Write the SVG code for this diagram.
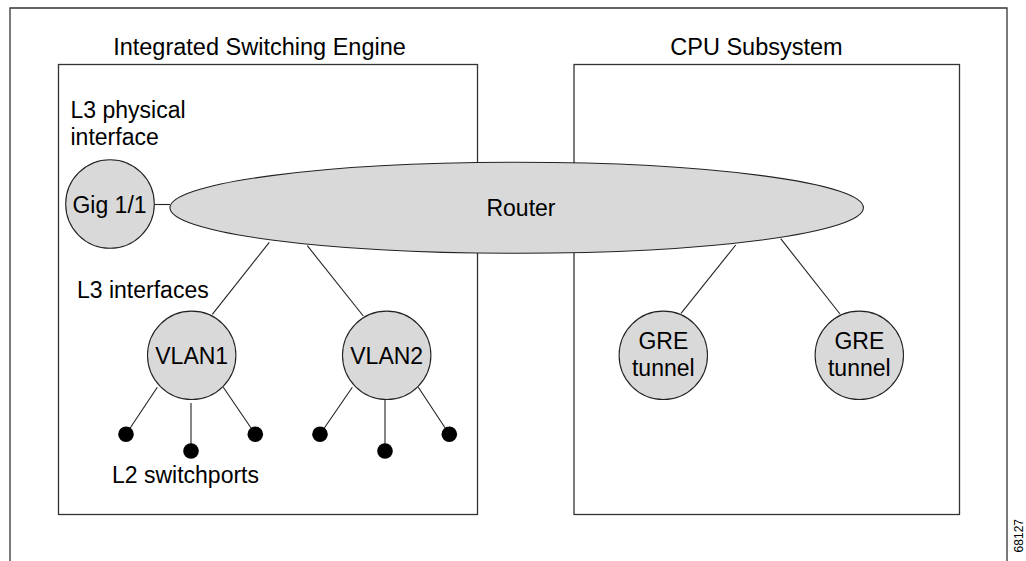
<svg xmlns="http://www.w3.org/2000/svg" width="1026" height="561" viewBox="0 0 1026 561">
<style>
text{font-family:"Liberation Sans",Arial,sans-serif;fill:#000}
.t{font-size:23.5px}
.n{font-size:23px}
.box{fill:none;stroke:#333;stroke-width:1.3}
.node{fill:#d9d9d9;stroke:#222;stroke-width:1.1}
.c{stroke:#222;stroke-width:1.1;fill:none}
.dot{fill:#000}
</style>
<rect width="1026" height="561" fill="#fff"/>
<path class="box" d="M10,561 V8 H1007 V561"/>
<g id="ise">
<rect class="box" x="58.5" y="64.5" width="419" height="450"/>
<text class="t" x="259.5" y="55" text-anchor="middle">Integrated Switching Engine</text>
</g>
<g id="cpu">
<rect class="box" x="574" y="64.5" width="385.5" height="450"/>
<text class="t" x="756.5" y="55" text-anchor="middle">CPU Subsystem</text>
</g>
<g id="labels">
<text class="n" x="70.5" y="118">L3 physical</text>
<text class="n" x="70.5" y="145">interface</text>
<text class="n" x="77" y="298">L3 interfaces</text>
<text class="n" x="112" y="483">L2 switchports</text>
</g>
<g id="connectors">
<line class="c" x1="154" y1="204.5" x2="170" y2="204.5"/>
<line class="c" x1="269.3" y1="242.3" x2="212.3" y2="314.3"/>
<line class="c" x1="307.3" y1="245.7" x2="363.3" y2="316"/>
<line class="c" x1="735.7" y1="245" x2="681" y2="313.3"/>
<line class="c" x1="780.7" y1="238.7" x2="840" y2="314"/>
<line class="c" x1="157.3" y1="387.3" x2="126" y2="434.3"/>
<line class="c" x1="191" y1="403" x2="191" y2="451"/>
<line class="c" x1="223.3" y1="387.3" x2="255.3" y2="434.3"/>
<line class="c" x1="352.3" y1="387.3" x2="320" y2="434.3"/>
<line class="c" x1="385" y1="399" x2="385" y2="451"/>
<line class="c" x1="418.3" y1="387.3" x2="449.3" y2="434.3"/>
</g>
<g id="router">
<ellipse class="node" cx="516.7" cy="207.8" rx="346.7" ry="45.5"/>
<text class="n" x="521" y="216" text-anchor="middle">Router</text>
</g>
<g id="gig">
<circle class="node" cx="110" cy="204" r="44.3"/>
<text class="n" x="109.5" y="213" text-anchor="middle">Gig 1/1</text>
</g>
<g id="vlan1">
<circle class="node" cx="191.7" cy="355.3" r="44.2"/>
<text class="n" x="191.7" y="364.3" text-anchor="middle">VLAN1</text>
</g>
<g id="vlan2">
<circle class="node" cx="386.7" cy="355.3" r="44.2"/>
<text class="n" x="386.7" y="364.3" text-anchor="middle">VLAN2</text>
</g>
<g id="gre1">
<circle class="node" cx="663.3" cy="355.3" r="44.2"/>
<text class="n" x="663.3" y="349" text-anchor="middle">GRE</text>
<text class="n" x="663.3" y="376" text-anchor="middle">tunnel</text>
</g>
<g id="gre2">
<circle class="node" cx="859.3" cy="355.3" r="44.2"/>
<text class="n" x="859.3" y="349" text-anchor="middle">GRE</text>
<text class="n" x="859.3" y="376" text-anchor="middle">tunnel</text>
</g>
<g id="ports">
<circle class="dot" cx="126" cy="434.3" r="7.8"/>
<circle class="dot" cx="191" cy="451" r="7.8"/>
<circle class="dot" cx="255.3" cy="434.3" r="7.8"/>
<circle class="dot" cx="320" cy="434.3" r="7.8"/>
<circle class="dot" cx="385" cy="451" r="7.8"/>
<circle class="dot" cx="449.3" cy="434.3" r="7.8"/>
</g>
<text x="1023" y="519" text-anchor="end" transform="rotate(-90 1023 519)" style="font-size:12px">68127</text>
</svg>
